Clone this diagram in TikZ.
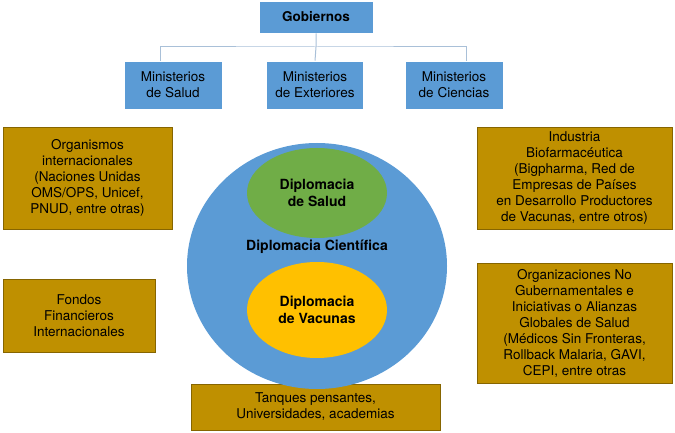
\documentclass[tikz,border=0pt]{standalone}
\usepackage{fontspec}
\setmainfont{TeX Gyre Heros}
\usetikzlibrary{shapes.geometric}
\definecolor{bl}{HTML}{5B9BD5}
\definecolor{gd}{HTML}{BF9000}
\definecolor{gr}{HTML}{70AD47}
\definecolor{yl}{HTML}{FFC000}
\definecolor{ln}{HTML}{A9C0D8}
\begin{document}
\begin{tikzpicture}[x=1pt,y=-1pt,
  bbox/.style={fill=bl,draw=white,line width=0.6pt,align=center,inner sep=1pt,font=\fontsize{13.5}{16}\selectfont},
  gbox/.style={fill=gd,draw=gd!70!black,line width=0.4pt,align=center,inner sep=1pt,font=\fontsize{13.5}{16}\selectfont},
  ell/.style={ellipse,draw=none,align=center,inner sep=0pt,font=\bfseries\fontsize{14}{17}\selectfont}]
\useasboundingbox (0,0) rectangle (675,433);
\node[bbox,minimum width=114,minimum height=32,font=\bfseries\fontsize{13.5}{16}\selectfont] (g) at (316,17) {Gobiernos};
\node[bbox,minimum width=98,minimum height=48] (m1) at (173,85) {Ministerios\\de Salud};
\node[bbox,minimum width=97,minimum height=48] (m2) at (315,85) {Ministerios\\de Exteriores};
\node[bbox,minimum width=98,minimum height=48] (m3) at (454,85) {Ministerios\\de Ciencias};
\coordinate (j) at (316,47);
\draw[ln,line width=1pt] (g.south) -- (j) -- (m2.north);
\draw[ln,line width=1pt] (160,61) |- (j) -| (466,61);
\node[gbox,minimum width=169,minimum height=102] (o1) at (87.5,178) {Organismos\\internacionales\\(Naciones Unidas\\OMS/OPS, Unicef,\\PNUD, entre otras)};
\node[gbox,minimum width=152,minimum height=73] (o2) at (79,315.5) {Fondos\\Financieros\\Internacionales};
\node[gbox,minimum width=195,minimum height=102] (o3) at (574.5,178) {Industria\\Biofarmacéutica\\(Bigpharma, Red de\\Empresas de Países\\en Desarrollo Productores\\de Vacunas, entre otros)};
\node[gbox,minimum width=195,minimum height=120] (o4) at (574.5,323) {Organizaciones No\\Gubernamentales e\\Iniciativas o Alianzas\\Globales de Salud\\(Médicos Sin Fronteras,\\Rollback Malaria, GAVI,\\CEPI, entre otras};
\node[gbox,minimum width=249,minimum height=46] (o5) at (315.5,407) {Tanques pensantes,\\Universidades, academias};
\fill[bl] (317,266) ellipse [x radius=130, y radius=123];
\node[ell,fill=gr,minimum width=140,minimum height=90] (ds) at (317,193) {Diplomacia\\de Salud};
\node[ell,fill=yl,minimum width=140,minimum height=96] (dv) at (317,310) {Diplomacia\\de Vacunas};
\node[font=\bfseries\fontsize{14}{17}\selectfont] (dc) at (317,247) {Diplomacia Científica};
\end{tikzpicture}
\end{document}
